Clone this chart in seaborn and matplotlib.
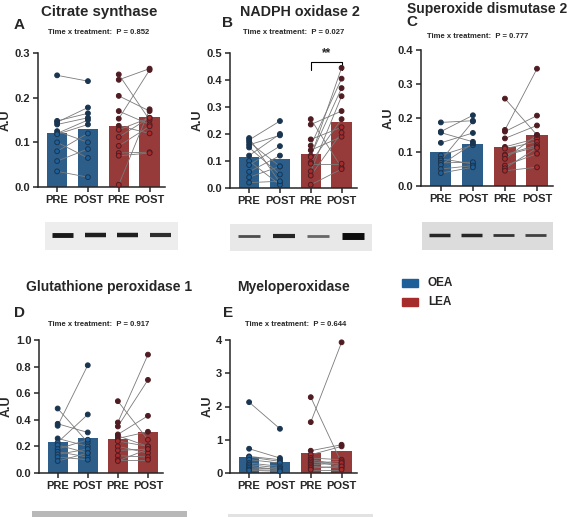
import numpy as np
import pandas as pd
import matplotlib
matplotlib.use("Agg")
import matplotlib.pyplot as plt
import seaborn as sns

W, H = 567, 517

tick_labels = ["PRE", "POST", "PRE", "POST"]
conds = ["OEA PRE", "OEA POST", "LEA PRE", "LEA POST"]
legend_groups = ["OEA", "LEA"]

# Citrate synthase
cs_oea_pre = [0.250, 0.148, 0.145, 0.140, 0.125, 0.120, 0.118, 0.100, 0.080, 0.058, 0.035]
cs_oea_post = [0.237, 0.165, 0.178, 0.155, 0.100, 0.150, 0.140, 0.065, 0.120, 0.085, 0.022]
cs_lea_pre = [0.252, 0.240, 0.204, 0.170, 0.153, 0.137, 0.128, 0.112, 0.092, 0.076, 0.070, 0.005]
cs_lea_post = [0.150, 0.265, 0.170, 0.140, 0.262, 0.120, 0.155, 0.155, 0.136, 0.078, 0.076, 0.174]

# NADPH oxidase 2
nox_oea_pre = [0.185, 0.178, 0.170, 0.160, 0.150, 0.120, 0.100, 0.085, 0.060, 0.040, 0.020]
nox_oea_post = [0.020, 0.248, 0.080, 0.195, 0.050, 0.200, 0.012, 0.155, 0.120, 0.080, 0.025]
nox_lea_pre = [0.255, 0.235, 0.180, 0.157, 0.140, 0.120, 0.115, 0.095, 0.090, 0.062, 0.046, 0.012]
nox_lea_post = [0.075, 0.285, 0.225, 0.405, 0.190, 0.370, 0.445, 0.255, 0.090, 0.340, 0.205, 0.070]

# Superoxide dismutase 2
sod_oea_pre = [0.187, 0.160, 0.157, 0.127, 0.090, 0.080, 0.075, 0.068, 0.062, 0.050, 0.038]
sod_oea_post = [0.192, 0.208, 0.130, 0.156, 0.120, 0.065, 0.190, 0.070, 0.125, 0.060, 0.055]
sod_lea_pre = [0.257, 0.165, 0.160, 0.140, 0.115, 0.110, 0.092, 0.090, 0.080, 0.060, 0.052, 0.045]
sod_lea_post = [0.150, 0.345, 0.207, 0.178, 0.140, 0.130, 0.120, 0.115, 0.150, 0.095, 0.112, 0.055]

# Glutathione peroxidase 1
gpx_oea_pre = [0.485, 0.370, 0.355, 0.260, 0.230, 0.210, 0.180, 0.160, 0.140, 0.120, 0.090]
gpx_oea_post = [0.230, 0.305, 0.810, 0.200, 0.440, 0.150, 0.250, 0.120, 0.180, 0.100, 0.150]
gpx_lea_pre = [0.540, 0.380, 0.350, 0.290, 0.280, 0.260, 0.240, 0.200, 0.170, 0.130, 0.100, 0.090]
gpx_lea_post = [0.250, 0.890, 0.700, 0.430, 0.200, 0.310, 0.200, 0.150, 0.180, 0.120, 0.100, 0.180]

# Myeloperoxidase
mpo_oea_pre = [2.13, 0.73, 0.50, 0.48, 0.40, 0.30, 0.25, 0.20, 0.15, 0.10, 0.08]
mpo_oea_post = [1.33, 0.45, 0.40, 0.35, 0.30, 0.20, 0.15, 0.10, 0.12, 0.08, 0.05]
mpo_lea_pre = [2.28, 1.53, 0.67, 0.55, 0.45, 0.40, 0.35, 0.30, 0.25, 0.20, 0.15, 0.10]
mpo_lea_post = [0.30, 3.93, 0.85, 0.80, 0.40, 0.25, 0.20, 0.35, 0.30, 0.15, 0.20, 0.10]

titles = ["Citrate synthase", "NADPH oxidase 2", "Superoxide dismutase 2",
          "Glutathione peroxidase 1", "Myeloperoxidase"]
letters = ["A", "B", "C", "D", "E"]
p_values = ["0.852", "0.027", "0.777", "0.917", "0.644"]

# band darkness for the blot strips (0 = none, 1 = black)
blot_a = [0.9, 0.88, 0.88, 0.82]
blot_b = [0.7, 0.85, 0.6, 0.95]
blot_c = [0.85, 0.85, 0.8, 0.75]

bar_pal = {"OEA PRE": "#1d5f98", "OEA POST": "#1d5f98", "LEA PRE": "#a62b2b", "LEA POST": "#a62b2b"}
dot_pal = {"OEA PRE": "#1a3550", "OEA POST": "#1a3550", "LEA PRE": "#4f1c22", "LEA POST": "#4f1c22"}

sns.set_style("ticks")
plt.rcParams["font.family"] = ["Liberation Sans", "DejaVu Sans"]
plt.rcParams["font.weight"] = "bold"
plt.rcParams["axes.labelweight"] = "bold"

fig = plt.figure(figsize=(W / 100, H / 100), dpi=100)


def px(x, y, w, h):
    return [x / W, 1 - (y + h) / H, w / W, h / H]


def panel(rect, data, ymax, ystep, fmt):
    ax = fig.add_axes(px(*rect))
    df = pd.DataFrame({"cond": np.repeat(conds, [len(v) for v in data]),
                       "val": np.concatenate(data)})
    sns.barplot(data=df, x="cond", y="val", hue="cond", order=conds, hue_order=conds,
                palette=bar_pal, errorbar=None, width=0.66, legend=False, ax=ax,
                zorder=1, linewidth=0)
    for g in range(2):
        for a, b in zip(data[2 * g], data[2 * g + 1]):
            ax.plot([2 * g, 2 * g + 1], [a, b], color="#7a7a7a", lw=0.6, zorder=3)
    for i, vals in enumerate(data):
        m = np.mean(vals)
        face = [dot_pal[conds[i]] if v > m else bar_pal[conds[i]] for v in vals]
        ax.scatter([i] * len(vals), vals, s=12, facecolor=face,
                   edgecolor=dot_pal[conds[i]], linewidth=0.7, zorder=4, clip_on=False)
    ax.set_xlim(-0.62, 3.5)
    ax.set_ylim(0, ymax)
    ticks = np.arange(0, ymax + ystep / 2, ystep)
    ax.set_yticks(ticks)
    ax.set_yticklabels([fmt.format(t) for t in ticks], fontsize=8, fontweight="bold")
    ax.set_xticks(range(4))
    ax.set_xticklabels(tick_labels, fontsize=8, fontweight="bold")
    ax.set_xlabel("")
    ax.set_ylabel("A.U", fontsize=9, fontweight="bold", labelpad=2)
    sns.despine(ax=ax)
    for s in ["left", "bottom"]:
        ax.spines[s].set_linewidth(1.1)
    ax.tick_params(width=1.1, length=3.5, pad=2)
    return ax


def blot(rect, dark, bg, thick):
    ax = fig.add_axes(px(*rect))
    ax.set_facecolor(bg)
    ax.set_xlim(-0.55, 3.55)
    ax.set_ylim(0, 1)
    for i, d in enumerate(dark):
        c = str(1 - d)
        ax.hlines(0.55, i - 0.32, i + 0.32, color=c, lw=thick[i])
    ax.set_xticks([])
    ax.set_yticks([])
    for s in ax.spines.values():
        s.set_visible(False)


axA = panel((38, 53, 127, 134), [cs_oea_pre, cs_oea_post, cs_lea_pre, cs_lea_post], 0.3, 0.1, "{:.1f}")
axB = panel((230, 53, 127, 135), [nox_oea_pre, nox_oea_post, nox_lea_pre, nox_lea_post], 0.5, 0.1, "{:.1f}")
axC = panel((421, 50, 132, 136), [sod_oea_pre, sod_oea_post, sod_lea_pre, sod_lea_post], 0.4, 0.1, "{:.1f}")
axD = panel((39, 340, 124, 133), [gpx_oea_pre, gpx_oea_post, gpx_lea_pre, gpx_lea_post], 1.0, 0.2, "{:.1f}")
axE = panel((230, 340, 127, 133), [mpo_oea_pre, mpo_oea_post, mpo_lea_pre, mpo_lea_post], 4, 1, "{:.0f}")

# significance bracket
axB.plot([2, 2, 3, 3], [0.438, 0.468, 0.468, 0.438], color="black", lw=0.8, clip_on=False)
axB.text(2.5, 0.478, "**", ha="center", va="bottom", fontsize=8.5, fontweight="bold")

# titles, letters, interaction p
title_pos = [(99, 12), (300, 12), (487, 9), (109, 287), (294, 287)]
title_size = [10.8, 10.3, 10, 10, 10]
letter_pos = [(14, 25), (222, 23), (406, 22), (14, 313), (223, 313)]
ptext_pos = [(99, 33), (294, 33), (478, 37), (99, 325), (296, 325)]
for i in range(5):
    fig.text(title_pos[i][0] / W, 1 - title_pos[i][1] / H, titles[i], ha="center", va="center",
             fontsize=title_size[i], fontweight="bold")
    fig.text(letter_pos[i][0] / W, 1 - letter_pos[i][1] / H, letters[i], ha="left", va="center",
             fontsize=11, fontweight="bold")
    fig.text(ptext_pos[i][0] / W, 1 - ptext_pos[i][1] / H,
             "Time x treatment:  P = " + p_values[i], ha="center", va="center",
             fontsize=5.5, fontweight="bold")

# blots
blot((45, 222, 133, 28), blot_a, "#ededed", [3.5, 3.2, 3.2, 3])
blot((230, 224, 142, 27), blot_b, "#e8e8e8", [2, 3, 2, 5])
blot((422, 222, 131, 28), blot_c, "#dcdcdc", [2.5, 2.5, 2, 2])
blot((32, 511, 155, 28), [0, 0, 0, 0], "#b8b8b8", [1, 1, 1, 1])
blot((228, 514, 145, 28), [0, 0, 0, 0], "#e2e2e2", [1, 1, 1, 1])

# legend
colors = ["#1d5f98", "#a62b2b"]
for i, g in enumerate(legend_groups):
    y = 283 + i * 19
    fig.patches.append(matplotlib.patches.Rectangle((402 / W, 1 - (y + 4) / H), 16 / W, 8 / H,
                                                    transform=fig.transFigure, color=colors[i]))
    fig.text(428 / W, 1 - y / H, g, ha="left", va="center", fontsize=8.5, fontweight="bold")

fig.savefig("out.png", dpi=100)
